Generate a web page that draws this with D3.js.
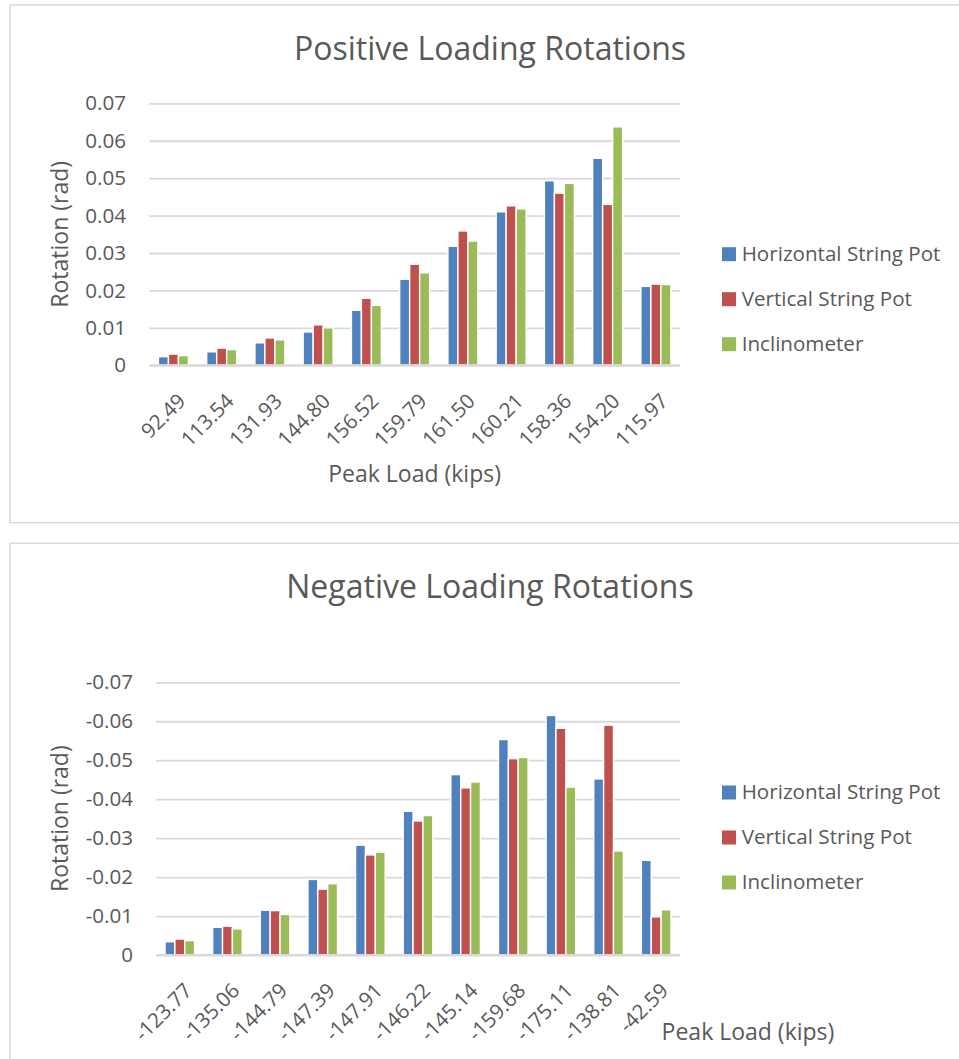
<!DOCTYPE html>
<html>
<head>
<meta charset="utf-8">
<script src="https://cdn.jsdelivr.net/npm/d3@7"></script>
<style>
  html, body { margin: 0; padding: 0; background: #ffffff; }
  svg { display: block; font-family: "Open Sans", sans-serif; }
</style>
</head>
<body>
<svg id="chart" width="959" height="1059"></svg>
<script>
// ---------- data ----------
const seriesNames = ["Horizontal String Pot", "Vertical String Pot", "Inclinometer"];
const seriesColors = ["#4F81BD", "#C0504D", "#9BBB59"];

const categoriesPos = ["92.49","113.54","131.93","144.80","156.52","159.79","161.50","160.21","158.36","154.20","115.97"];
const horizontalPos = [0.0023,0.0036,0.0060,0.0089,0.0147,0.0230,0.0318,0.0410,0.0493,0.0553,0.0211];
const verticalPos   = [0.0030,0.0046,0.0073,0.0108,0.0179,0.0270,0.0359,0.0426,0.0460,0.0430,0.0217];
const inclinoPos    = [0.0026,0.0042,0.0068,0.0100,0.0160,0.0247,0.0332,0.0418,0.0486,0.0637,0.0216];

const categoriesNeg = ["-123.77","-135.06","-144.79","-147.39","-147.91","-146.22","-145.14","-159.68","-175.11","-138.81","-42.59"];
const horizontalNeg = [-0.0034,-0.0071,-0.0115,-0.0194,-0.0282,-0.0369,-0.0463,-0.0553,-0.0615,-0.0452,-0.0243];
const verticalNeg   = [-0.0041,-0.0074,-0.0114,-0.0169,-0.0257,-0.0344,-0.0429,-0.0504,-0.0582,-0.0590,-0.0098];
const inclinoNeg    = [-0.0037,-0.0067,-0.0104,-0.0183,-0.0264,-0.0358,-0.0444,-0.0507,-0.0431,-0.0267,-0.0116];

const yTickValuesPos = [0, 0.01, 0.02, 0.03, 0.04, 0.05, 0.06, 0.07];
const yTickValuesNeg = [0, -0.01, -0.02, -0.03, -0.04, -0.05, -0.06, -0.07];

const titlePos = "Positive Loading Rotations";
const titleNeg = "Negative Loading Rotations";
const yTitle = "Rotation (rad)";
const xTitle = "Peak Load (kips)";

// ---------- drawing ----------
const svg = d3.select("#chart");
const textColor = "#595959";
const gridColor = "#d9d9d9";

function fmtTick(d) {
  return d === 0 ? "0" : d.toFixed(2);   // plain hyphen-minus as in the original
}

function drawChart(o) {
  const g = svg.append("g");
  // frame
  g.append("rect")
    .attr("x", o.frame[0]).attr("y", o.frame[1])
    .attr("width", o.frame[2]).attr("height", o.frame[3])
    .attr("fill", "#ffffff").attr("stroke", gridColor).attr("stroke-width", 1.5);

  // title
  g.append("text")
    .attr("x", o.titleX).attr("y", o.titleY)
    .attr("text-anchor", "middle")
    .attr("font-size", 32).attr("fill", textColor)
    .text(o.title);

  const x0 = d3.scaleBand().domain(o.categories).range([o.left, o.right]).paddingInner(0).paddingOuter(0);
  const x1 = d3.scaleBand().domain(seriesNames).range([0, x0.bandwidth()]).paddingInner(0).paddingOuter(0.915);
  const y = d3.scaleLinear().domain(o.domain).range([o.bottom, o.top]);

  // gridlines + y tick labels
  const yAxis = d3.axisLeft(y).tickValues(o.yTicks)
    .tickSize(-(o.right - o.left))
    .tickPadding(o.left - o.labelRight)
    .tickFormat(fmtTick);
  const ya = g.append("g").attr("transform", `translate(${o.left},0)`).call(yAxis);
  ya.select(".domain").remove();
  ya.selectAll(".tick line").attr("stroke", gridColor).attr("stroke-width", 1.8);
  ya.selectAll(".tick text").attr("fill", textColor).attr("font-size", 20.6)
    .attr("font-family", "Open Sans, sans-serif");

  // bars
  const series = o.series;
  const groups = g.append("g").selectAll("g")
    .data(o.categories)
    .join("g")
    .attr("transform", d => `translate(${x0(d)},0)`);
  groups.selectAll("rect")
    .data((d, i) => seriesNames.map((s, k) => ({ s, v: series[k][i], c: seriesColors[k] })))
    .join("rect")
    .attr("x", d => x1(d.s))
    .attr("width", x1.bandwidth())
    .attr("y", d => Math.min(y(d.v), y(0)))
    .attr("height", d => Math.abs(y(0) - y(d.v)))
    .attr("fill", d => d.c)
    .attr("stroke", "#ffffff").attr("stroke-width", 1.4);

  // x axis baseline
  g.append("line")
    .attr("x1", o.left).attr("x2", o.right)
    .attr("y1", y(0)).attr("y2", y(0))
    .attr("stroke", gridColor).attr("stroke-width", 2);

  // x tick labels rotated
  g.append("g").selectAll("text")
    .data(o.categories)
    .join("text")
    .attr("transform", d => `translate(${x0(d) + x0.bandwidth() / 2 + 3},${y(0) + 26.5}) rotate(-45)`)
    .attr("text-anchor", "end")
    .attr("dy", "0.72em")
    .attr("font-size", 20.6).attr("fill", textColor)
    .text(d => d);

  // axis titles
  g.append("text")
    .attr("transform", `translate(68,${(o.top + o.bottom) / 2}) rotate(-90)`)
    .attr("text-anchor", "middle")
    .attr("font-size", 23).attr("fill", textColor)
    .text(yTitle);
  g.append("text")
    .attr("x", o.xTitleX).attr("y", o.xTitleY)
    .attr("text-anchor", o.xTitleAnchor)
    .attr("font-size", 23).attr("fill", textColor)
    .text(xTitle);

  // legend
  const lg = g.append("g").selectAll("g").data(seriesNames).join("g")
    .attr("transform", (d, i) => `translate(722,${o.legendY + i * 45})`);
  lg.append("rect").attr("x", 0).attr("y", -13.5).attr("width", 14).attr("height", 14)
    .attr("fill", (d, i) => seriesColors[i]);
  lg.append("text").attr("x", 19.7).attr("y", 0)
    .attr("font-size", 20.6).attr("fill", textColor)
    .text(d => d);
}

drawChart({
  frame: [10, 5, 980, 517.7],
  title: titlePos, titleX: 490, titleY: 59.5,
  categories: categoriesPos,
  series: [horizontalPos, verticalPos, inclinoPos],
  domain: [0, 0.07], yTicks: yTickValuesPos,
  left: 149.3, right: 680, top: 103.3, bottom: 365.3, labelRight: 126,
  xTitleX: 414.6, xTitleY: 481.5, xTitleAnchor: "middle",
  legendY: 260.7
});

drawChart({
  frame: [10, 543.3, 980, 540],
  title: titleNeg, titleX: 490, titleY: 598,
  categories: categoriesNeg,
  series: [horizontalNeg, verticalNeg, inclinoNeg],
  domain: [0, -0.07], yTicks: yTickValuesNeg,
  left: 156, right: 680, top: 682.3, bottom: 955, labelRight: 133,
  xTitleX: 661.6, xTitleY: 1039.5, xTitleAnchor: "start",
  legendY: 799
});
</script>
</body>
</html>
